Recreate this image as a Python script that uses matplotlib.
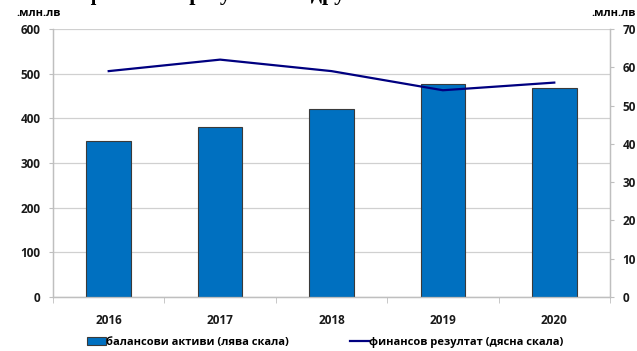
import numpy as np
import matplotlib
matplotlib.use("Agg")
import matplotlib.pyplot as plt
from matplotlib.patches import Patch
from matplotlib.lines import Line2D

# ── данни ────────────────────────────────────────────────
years = ["2016", "2017", "2018", "2019", "2020"]
assets = [350, 381, 421, 476, 469]          # лява скала
result = [59.0, 62.0, 59.0, 54.0, 56.0]     # дясна скала
left_ticks = [0, 100, 200, 300, 400, 500, 600]
right_ticks = [0, 10, 20, 30, 40, 50, 60, 70]

plt.rcParams.update({
    "font.family": ["Open Sans", "DejaVu Sans"],
    "font.weight": "bold",
    "font.size": 8.5,
})

BLUE = "#0070C0"
NAVY = "#000080"
GRID = "#D0D0D0"
AXC = "#BFBFBF"

fig = plt.figure(figsize=(6.37, 3.51), dpi=100)
ax = fig.add_axes([0.0832, 0.1538, 0.8744, 0.7636])
ax2 = ax.twinx()

x = np.arange(len(years))
ax.bar(x, assets, width=0.4, color=BLUE, edgecolor="#3A3A3A", linewidth=0.8, zorder=3)
ax.set_xlim(-0.5, len(years) - 0.5)
ax.set_ylim(0, 600)
ax.set_yticks(left_ticks)
ax.grid(axis="y", color=GRID, linewidth=0.9, zorder=0)
ax.set_axisbelow(True)

ax2.plot(x, result, color=NAVY, linewidth=1.6, zorder=4)
ax2.set_ylim(0, 70)
ax2.set_yticks(right_ticks)

# оси
for a in (ax, ax2):
    a.spines["top"].set_visible(False)
    for s in ("left", "right", "bottom"):
        a.spines[s].set_color(AXC)
        a.spines[s].set_linewidth(0.9)
ax.tick_params(axis="y", length=3, color=AXC, labelsize=8.5, pad=6)
ax2.tick_params(axis="y", length=3, color=AXC, labelsize=8.5, pad=6)
ax.set_xticks(x)
ax.set_xticklabels(years)
ax.tick_params(axis="x", length=0, pad=12, labelsize=8.5)
ax.set_xticks(np.arange(-0.5, len(years), 1.0), minor=True)
ax.tick_params(axis="x", which="minor", length=4, color=AXC)

for lab in ax.get_yticklabels() + ax2.get_yticklabels() + ax.get_xticklabels():
    lab.set_fontweight("bold")
    lab.set_color("#1A1A1A")

fig.text(0.025, 0.945, ".млн.лв", fontsize=8, fontweight="bold", ha="left", va="bottom")
fig.text(0.998, 0.945, ".млн.лв", fontsize=8, fontweight="bold", ha="right", va="bottom")

# отрязано заглавие (в оригинала се виждат само долните краища)
fig.text(0.33, 1.0, "Активи и финансов резултат на дружествата", fontsize=16,
         fontweight="bold", family="Liberation Serif", ha="center", va="baseline")

handles = [
    Patch(facecolor=BLUE, edgecolor="#3A3A3A", linewidth=0.8, label="балансови активи (лява скала)"),
    Line2D([0], [0], color=NAVY, linewidth=1.6, label="финансов резултат (дясна скала)"),
]
fig.legend(handles=handles, loc="center", bbox_to_anchor=(0.51, 0.025), ncol=2,
           frameon=False, fontsize=8, handlelength=1.7, handletextpad=0.0,
           columnspacing=5.5, handleheight=0.8)

fig.savefig("out.png", dpi=100)
plt.close(fig)
